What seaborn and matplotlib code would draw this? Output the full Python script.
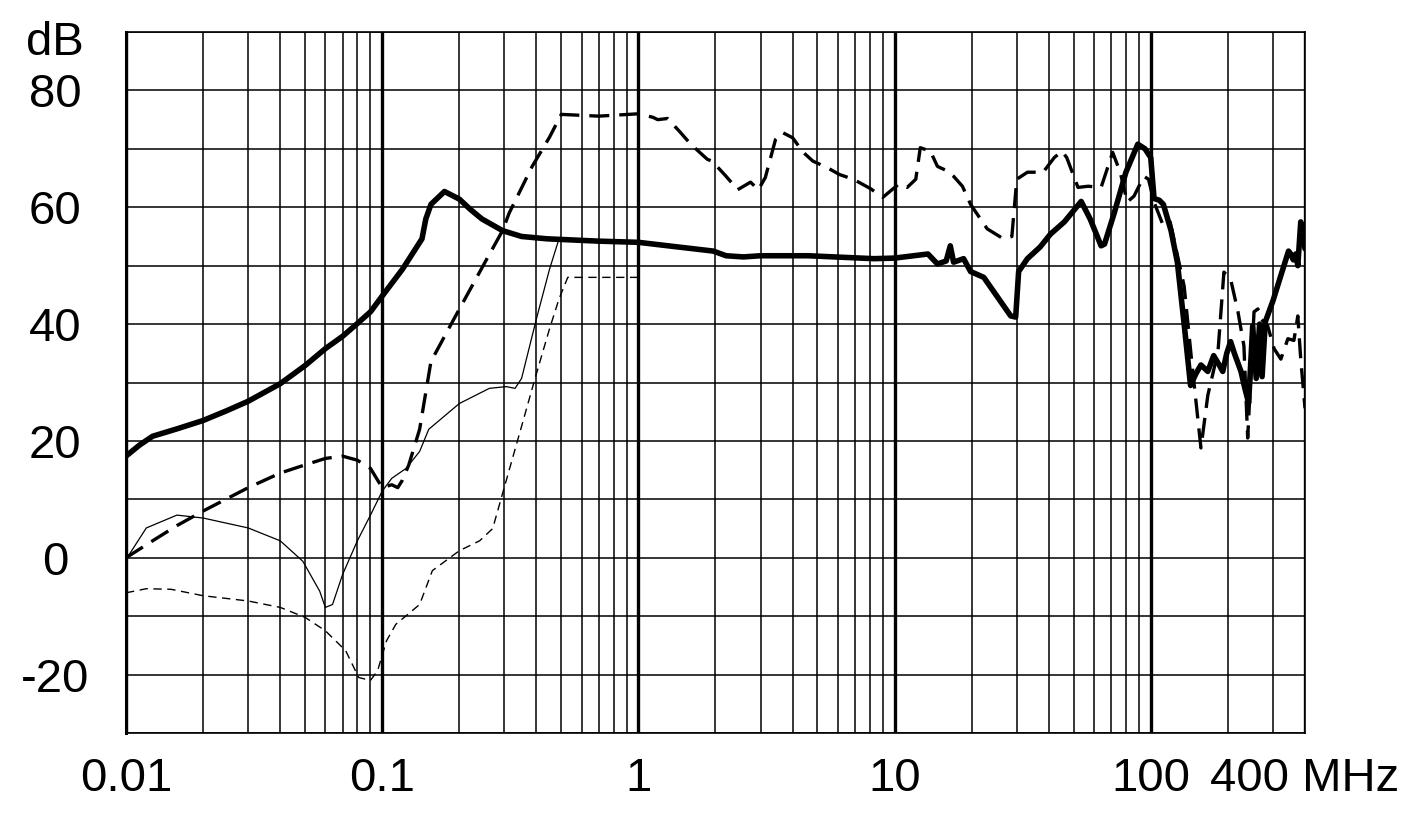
import matplotlib
matplotlib.use('Agg')
import matplotlib.pyplot as plt
import matplotlib.ticker as mticker
import seaborn as sns

# thick solid trace
f_a = [0.01, 0.0113, 0.0127, 0.0159, 0.02, 0.0248, 0.03, 0.04, 0.05, 0.06, 0.07, 0.08, 0.09, 0.1,
       0.12, 0.143, 0.148, 0.155, 0.175, 0.2, 0.22, 0.245, 0.295, 0.35, 0.44, 0.7, 1.0, 1.43, 1.96,
       2.2, 2.57, 3.0, 4.6, 8.3, 10.0, 13.5, 14.7, 15.9, 16.5, 17.0, 18.6, 19.8, 22.3, 28.4, 29.7,
       30.5, 33.0, 37.0, 40.6, 46.0, 53.5, 58.0, 64.0, 66.0, 72.0, 80.0, 89.0, 95.0, 100.0, 103.0,
       108.0, 112.0, 120.0, 127.0, 135.0, 143.0, 150.0, 157.0, 167.0, 176.0, 185.0, 191.0, 198.0,
       205.0, 212.0, 225.0, 233.0, 241.0, 250.0, 258.0, 266.0, 272.0, 280.0, 300.0, 331.0, 345.0,
       352.0, 360.0, 368.0, 375.0, 385.0, 392.0, 400.0]
db_a = [17.4, 19.3, 20.8, 22.1, 23.5, 25.2, 26.8, 29.8, 32.9, 35.8, 37.9, 40.1, 42.1, 44.8,
        49.4, 54.6, 58.0, 60.5, 62.7, 61.4, 59.7, 58.0, 56.0, 55.0, 54.6, 54.2, 54.0, 53.2, 52.5,
        51.7, 51.5, 51.7, 51.7, 51.2, 51.3, 52.0, 50.3, 50.8, 53.4, 50.6, 51.2, 49.0, 48.0, 41.4, 41.2,
        49.0, 51.2, 53.2, 55.4, 57.5, 61.0, 58.0, 53.4, 53.7, 59.0, 66.0, 70.8, 70.0, 68.5, 61.5,
        61.2, 60.5, 56.0, 50.6, 40.0, 29.5, 31.5, 33.0, 31.9, 34.6, 33.0, 31.9, 35.0,
        37.0, 35.0, 31.9, 29.0, 26.5, 39.7, 30.7, 40.0, 31.0, 40.4, 44.0, 50.0, 52.5,
        52.0, 51.0, 52.0, 50.0, 57.5, 56.0, 52.9]

# thick dashed trace
f_b = [0.01, 0.0127, 0.0158, 0.02, 0.03, 0.04, 0.05, 0.06, 0.07, 0.08, 0.09, 0.1, 0.109, 0.115,
       0.12, 0.127, 0.14, 0.155, 0.188, 0.255, 0.295, 0.313, 0.385, 0.45, 0.5, 0.7, 1.0, 1.14, 1.19,
       1.3, 1.46, 1.6, 1.86, 1.94, 2.2, 2.44, 2.74, 2.94, 3.13, 3.43, 3.65, 4.0, 4.4, 4.8, 5.45, 6.1,
       6.9, 8.05, 9.0, 10.4, 11.2, 12.1, 12.6, 13.8, 14.7, 16.1, 17.0, 18.4, 19.8, 23.0, 26.6, 28.7,
       30.0, 33.0, 38.0, 42.0, 45.0, 47.0, 52.0, 57.0, 64.0, 71.0, 76.0, 81.0, 86.0, 94.0, 98.0,
       103.0, 112.0, 119.0, 135.0, 145.0, 157.0, 167.0, 183.0, 193.0, 205.0, 219.0, 231.0, 239.0,
       253.0, 262.0, 269.0, 286.0, 303.0, 322.0, 343.0, 362.0, 375.0, 385.0, 400.0]
db_b = [0.0, 2.9, 5.5, 8.0, 12.0, 14.5, 15.9, 17.0, 17.4, 16.7, 15.3, 12.0, 12.5, 12.0,
        13.3, 15.9, 22.0, 33.6, 40.4, 51.0, 56.0, 59.0, 67.0, 72.0, 75.9, 75.6, 76.0, 75.4, 75.0,
        75.2, 72.8, 70.8, 68.2, 67.9, 65.3, 63.0, 64.3, 63.0, 65.1, 71.6, 72.8, 71.9, 69.4, 67.9, 66.8, 65.6,
        64.8, 63.2, 61.7, 64.0, 63.4, 64.8, 70.2, 69.6, 67.0, 66.2, 65.3, 63.6, 60.5, 56.3, 54.6, 55.0,
        64.8, 66.0, 66.0, 68.5, 69.6, 68.5, 63.4, 63.6, 63.4, 69.4, 66.0, 60.9, 61.9, 65.3, 64.8,
        60.9, 56.8, 57.5, 46.5, 33.0, 18.8, 27.8, 35.3, 48.9, 47.7, 42.1, 36.3, 20.5,
        42.1, 42.6, 40.9, 39.7, 35.8, 34.0, 37.5, 37.2, 41.4, 34.0, 25.6]

# thin solid trace
f_c = [0.01, 0.012, 0.0158, 0.02, 0.03, 0.04, 0.049, 0.057, 0.06, 0.064, 0.07, 0.08, 0.09, 0.1,
       0.109, 0.124, 0.14, 0.152, 0.2, 0.262, 0.305, 0.33, 0.35, 0.4, 0.45, 0.49]
db_c = [-0.3, 5.1, 7.3, 6.8, 5.1, 2.9, -0.6, -5.7, -8.5, -8.0, -2.9, 2.9, 7.3, 11.4,
        13.6, 15.3, 18.2, 22.0, 26.4, 29.0, 29.3, 29.0, 30.7, 40.9, 49.4, 54.6]

# thin dashed trace
f_d = [0.01, 0.012, 0.015, 0.02, 0.03, 0.04, 0.05, 0.06, 0.072, 0.081, 0.09, 0.096, 0.104, 0.113,
       0.14, 0.157, 0.2, 0.24, 0.27, 0.295, 0.35, 0.395, 0.45, 0.49, 0.53, 1.0]
db_d = [-6.0, -5.3, -5.4, -6.5, -7.4, -8.5, -10.2, -12.5, -15.9, -20.5, -21.0, -19.3, -14.2, -11.4,
        -8.0, -2.2, 1.2, 2.9, 5.0, 11.0, 22.5, 30.7, 39.2, 44.3, 48.0, 48.0]

x_ticks = [0.01, 0.1, 1, 10, 100, 400]
x_labels = ['0.01', '0.1', '1', '10', '100', '400 MHz']
x_minor = [0.02, 0.03, 0.04, 0.05, 0.06, 0.07, 0.08, 0.09,
           0.2, 0.3, 0.4, 0.5, 0.6, 0.7, 0.8, 0.9,
           2, 3, 4, 5, 6, 7, 8, 9,
           20, 30, 40, 50, 60, 70, 80, 90, 200, 300]
y_ticks = [-20, 0, 20, 40, 60, 80]
y_minor = [-30, -10, 10, 30, 50, 70, 90]

sns.set_theme(style='white')
plt.rcParams['font.family'] = ['Liberation Sans', 'DejaVu Sans']
plt.rcParams['axes.unicode_minus'] = False
plt.rcParams['text.color'] = 'black'
plt.rcParams['xtick.color'] = 'black'
plt.rcParams['ytick.color'] = 'black'

fig = plt.figure(figsize=(14.27, 8.34), dpi=100)
ax = fig.add_axes([0.0883, 0.1211, 0.8262, 0.8405])

sns.lineplot(x=f_a, y=db_a, ax=ax, color='black', lw=4.0, sort=False, estimator=None)
sns.lineplot(x=f_b, y=db_b, ax=ax, color='black', lw=2.4, sort=False, estimator=None,
             linestyle=(0, (6, 3)))
sns.lineplot(x=f_c, y=db_c, ax=ax, color='black', lw=0.9, sort=False, estimator=None)
sns.lineplot(x=f_d, y=db_d, ax=ax, color='black', lw=1.0, sort=False, estimator=None,
             linestyle=(0, (6, 4)))

ax.set_xscale('log')
ax.set_xlim(0.01, 400)
ax.set_ylim(-30, 90)

ax.xaxis.set_major_locator(mticker.FixedLocator(x_ticks))
ax.xaxis.set_major_formatter(mticker.FixedFormatter(x_labels))
ax.xaxis.set_minor_locator(mticker.FixedLocator(x_minor))
ax.xaxis.set_minor_formatter(mticker.NullFormatter())
ax.yaxis.set_major_locator(mticker.FixedLocator(y_ticks))
ax.yaxis.set_minor_locator(mticker.FixedLocator(y_minor))

ax.grid(which='major', axis='x', color='black', lw=2.4)
ax.grid(which='minor', axis='x', color='black', lw=1.1)
ax.grid(which='both', axis='y', color='black', lw=1.1)
ax.set_axisbelow(True)

ax.tick_params(which='both', length=0)
ax.tick_params(axis='x', labelsize=34, pad=17, labelcolor='black')
ax.tick_params(axis='y', labelsize=34, pad=51, labelcolor='black')
for lab in ax.get_yticklabels():
    lab.set_horizontalalignment('center')

ax.text(-0.0601, 88.2, 'dB', transform=ax.get_yaxis_transform(), fontsize=34,
        ha='center', va='center', color='black')

for side in ['top', 'right', 'bottom']:
    ax.spines[side].set_color('black')
    ax.spines[side].set_linewidth(1.2)
ax.spines['left'].set_color('black')
ax.spines['left'].set_linewidth(2.2)

ax.set_xlabel('')
ax.set_ylabel('')

fig.savefig('out.png', dpi=100)
